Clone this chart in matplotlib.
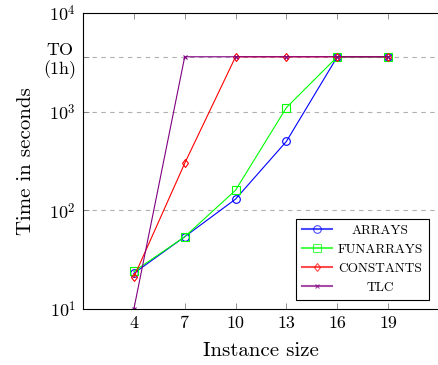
import matplotlib
matplotlib.use("Agg")
import matplotlib.pyplot as plt
from matplotlib.lines import Line2D

plt.rcParams['font.family'] = ['cmr10', 'DejaVu Serif']
plt.rcParams['mathtext.fontset'] = 'cm'
plt.rcParams['axes.formatter.use_mathtext'] = True

sizes = [4, 7, 10, 13, 16, 19]
TO = 3600
arrays = [23, 54, 130, 500, TO, TO]
funarrays = [24, 54, 160, 1100, TO, TO]
constants = [21, 300, TO, TO, TO, TO]
tlc = [10, TO, TO, TO, TO, TO]

series = [
    ("ARRAYS", arrays, "#0000ff", "o", 5.5, "none"),
    ("FUNARRAYS", funarrays, "#00ff00", "s", 5.5, "none"),
    ("CONSTANTS", constants, "#ff0000", "d", 4.5, "none"),
    ("TLC", tlc, "#800080", "x", 3.5, "#800080"),
]

fig = plt.figure(figsize=(4.39, 3.65), dpi=100)
ax = fig.add_axes([83/439, 1-309/365, 1-83/439, (309-13)/365])

for name, vals, c, m, ms, mfc in series:
    ax.plot(sizes, vals, color=c, marker=m, markersize=ms, markerfacecolor=mfc,
            markeredgecolor=c, lw=0.8, mew=0.8)

ax.set_yscale('log')
ax.set_xlim(1, 22)
ax.set_ylim(10, 10000)
ax.set_xticks(sizes)
ax.set_xticklabels([str(s) for s in sizes])
ax.set_yticks([10, 100, 1000, TO, 10000])
ax.set_yticklabels([r'$10^1$', r'$10^2$', r'$10^3$', 'TO\n(1h)', r'$10^4$'],
                   multialignment='center')
ax.yaxis.set_minor_locator(matplotlib.ticker.NullLocator())
for y in [100, 1000, TO]:
    ax.axhline(y, color='#b0b0b0', lw=0.8, ls=(0, (4, 4)), zorder=0)
ax.tick_params(axis='both', direction='in', length=4, width=0.6, color='#808080',
               labelsize=13, top=True, right=False, pad=5)
ax.spines['right'].set_visible(False)
for s in ['left', 'bottom', 'top']:
    ax.spines[s].set_linewidth(0.8)
ax.set_xlabel('Instance size', fontsize=15, labelpad=8)
ax.set_ylabel('Time in seconds', fontsize=15, labelpad=6)

handles = [Line2D([], [], color=c, marker=m, markersize=ms, markerfacecolor=mfc,
                  markeredgecolor=c, lw=1.5, alpha=0.7, mew=0.8)
           for name, vals, c, m, ms, mfc in series]
leg = ax.legend(handles, [s[0] for s in series], loc='lower right',
                bbox_to_anchor=((429-83)/356, (309-300)/296), fontsize=9.6,
                frameon=True, fancybox=False, edgecolor='black', framealpha=1,
                handlelength=2.25, borderpad=0.45, labelspacing=0.5,
                handletextpad=0.45, borderaxespad=0)
leg.get_frame().set_linewidth(0.8)

fig.canvas.draw()
r = fig.canvas.get_renderer()
widths = [t.get_window_extent(r).width for t in leg.get_texts()]
maxw = max(widths)
for t, w in zip(leg.get_texts(), widths):
    t.set_position(((maxw - w) / 2, 0))
fig.savefig('out.png', dpi=100)
